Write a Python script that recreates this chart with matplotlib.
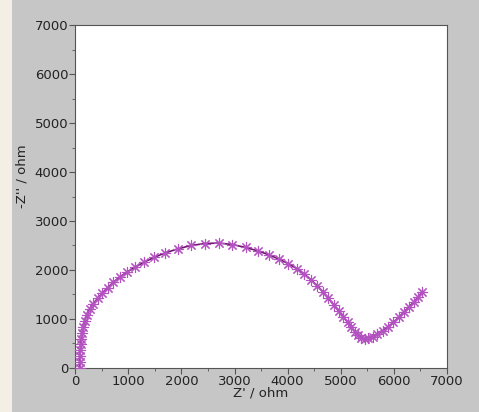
import matplotlib.pyplot as plt
from matplotlib.patches import Rectangle
from matplotlib.ticker import MultipleLocator

# Nyquist data (ohm)
z_real = [90, 90, 92, 96, 102, 112, 128, 150, 180, 220, 270, 340, 420, 510, 610,
          720, 840, 980, 1130, 1300, 1490, 1700, 1930, 2180, 2440, 2700, 2960, 3210,
          3440, 3650, 3840, 4010, 4170, 4310, 4440, 4560, 4670, 4770, 4870, 4960,
          5050, 5130, 5200, 5270, 5330, 5390, 5450, 5520, 5600, 5690, 5790, 5890,
          5990, 6090, 6190, 6290, 6380, 6460, 6530]
z_imag = [0, 120, 240, 360, 480, 600, 720, 840, 960, 1080, 1200, 1310, 1420, 1530, 1640,
          1750, 1860, 1960, 2060, 2160, 2260, 2350, 2430, 2500, 2540, 2550, 2520, 2460,
          2390, 2310, 2220, 2130, 2030, 1920, 1800, 1680, 1550, 1420, 1290, 1160,
          1040, 930, 830, 740, 670, 620, 600, 610, 640, 690, 760, 840,
          930, 1030, 1140, 1250, 1350, 1450, 1550]

plt.rcParams['font.family'] = 'DejaVu Sans'

fig = plt.figure(figsize=(4.79, 4.12), dpi=100)
fig.patch.set_facecolor('#c6c6c6')
# pale strip on the left edge (slide background)
fig.patches.append(Rectangle((0, 0), 12 / 479, 1, transform=fig.transFigure,
                             facecolor='#f3efe4', edgecolor='none', zorder=0))

ax = fig.add_axes([0.157, 0.107, 0.776, 0.832])
ax.set_facecolor('white')

ax.plot(z_real, z_imag, color='#6e166e', lw=1.2, zorder=2)
ax.plot(z_real, z_imag, ls='none', marker=(8, 2, 0), markersize=8,
        markeredgecolor='#b352c0', markeredgewidth=0.8, zorder=3)

ax.set_xlim(0, 7000)
ax.set_ylim(0, 7000)
ax.xaxis.set_major_locator(MultipleLocator(1000))
ax.yaxis.set_major_locator(MultipleLocator(1000))
ax.xaxis.set_minor_locator(MultipleLocator(500))
ax.yaxis.set_minor_locator(MultipleLocator(500))
ax.tick_params(which='major', direction='out', length=4, width=0.8, color='#555555',
               labelsize=9.5, labelcolor='#222222', pad=1, top=False, right=False)
ax.tick_params(which='minor', direction='out', length=2, width=0.6, color='#555555',
               top=False, right=False)

for s in ax.spines.values():
    s.set_color('#555555')
    s.set_linewidth(0.8)

ax.set_xlabel("Z' / ohm", fontsize=9.5, color='#222222', labelpad=-1)
ax.set_ylabel("-Z'' / ohm", fontsize=9.5, color='#222222')
ax.yaxis.set_label_coords(-0.125, 0.56)

fig.savefig('out.png', dpi=100, facecolor=fig.get_facecolor())
